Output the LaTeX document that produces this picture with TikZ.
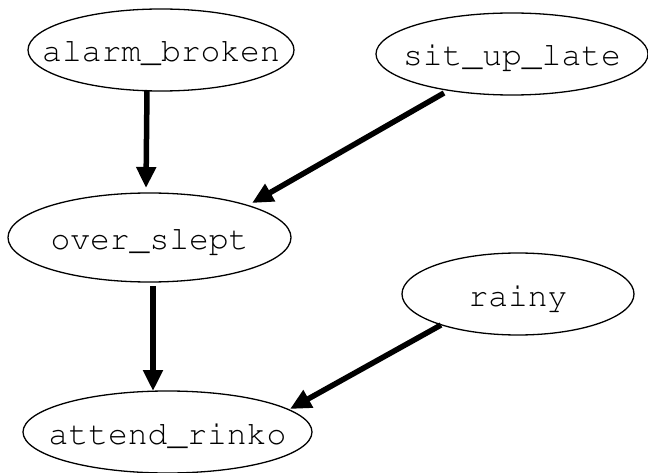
\documentclass[tikz,border=0pt]{standalone}
\usepackage[T1]{fontenc}
\usetikzlibrary{shapes.geometric,arrows.meta}
\tikzset{
  el/.style={draw, ellipse, inner sep=0pt, outer sep=0pt, line width=1.3pt,
    font=\fontfamily{pcr}\fontsize{33}{40}\selectfont, text height=24pt, text depth=0pt},
  edge/.style={line width=5.5pt, -{Triangle[length=21pt,width=19pt]}}
}
\newcommand{\lbl}[1]{\makebox[0pt]{#1}}
\begin{document}
\begin{tikzpicture}[x=1pt,y=1pt]
\useasboundingbox (0,0) rectangle (648,472);
\fill[white] (0,0) rectangle (648,472);
\node[el, minimum width=266pt, minimum height=82pt] (alarm) at (161,422) {\lbl{alarm\_broken}};
\node[el, minimum width=272pt, minimum height=82pt] (sit) at (512,418) {\lbl{sit\_up\_late}};
\node[el, minimum width=283pt, minimum height=89pt] (over) at (149.5,234.5) {\lbl{over\_slept}};
\node[el, minimum width=232pt, minimum height=82pt] (rainy) at (518,178) {\lbl{rainy}};
\node[el, minimum width=289pt, minimum height=82pt] (attend) at (167.5,40) {\lbl{attend\_rinko}};
\draw[edge] ([shift={(-14,-40)}]alarm.center) -- ([shift={(-3.5,49.5)}]over.center);
\draw[edge] ([shift={(-68,-39)}]sit.center) -- ([shift={(102.5,34.5)}]over.center);
\draw[edge] ([shift={(3.5,-48.5)}]over.center) -- ([shift={(-14.5,41)}]attend.center);
\draw[edge] ([shift={(-77,-31)}]rainy.center) -- ([shift={(122.5,23)}]attend.center);
\end{tikzpicture}
\end{document}
